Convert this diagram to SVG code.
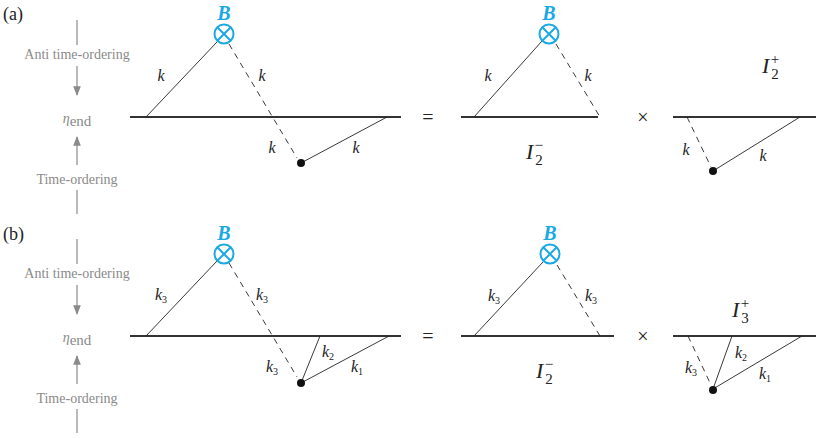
<svg xmlns="http://www.w3.org/2000/svg" width="817" height="438" viewBox="0 0 817 438">
<style>
text{font-family:"Liberation Serif","DejaVu Serif","Times New Roman",serif}
.g{font-size:14px;fill:#8a8a8a;text-anchor:middle}
.gl{stroke:#8a8a8a;stroke-width:1.2}
.base{stroke:#333;stroke-width:2}
.s{stroke:#222;stroke-width:0.9;fill:none}
.d{stroke:#222;stroke-width:0.9;fill:none;stroke-dasharray:6,5}
.k{font-style:italic;font-size:16px;fill:#222;text-anchor:middle}
.sub{font-size:10px;font-style:normal}
.B{font-style:italic;font-weight:bold;font-size:20px;fill:#1ba9e6;text-anchor:middle}
.c{stroke:#1ba9e6;stroke-width:2;fill:#fff}
.t{font-size:20px;fill:#222;text-anchor:middle}
.I{font-style:italic;font-size:22px;fill:#222}
.ss{font-size:15px;font-style:normal}
</style>
<defs>
<marker id="ah" viewBox="0 0 10 10" refX="9" refY="5" markerWidth="8" markerHeight="8" orient="auto"><path d="M0,1 L10,5 L0,9z" fill="#8a8a8a"/></marker>
<g id="bx"><circle cx="0" cy="0" r="9.5" class="c"/><path d="M-6.7,-6.7L6.7,6.7M-6.7,6.7L6.7,-6.7" stroke="#1ba9e6" stroke-width="2"/></g>
</defs>
<text x="3" y="20" font-size="18" fill="#222">(a)</text>
<text x="3" y="240" font-size="18" fill="#222">(b)</text>
<g id="axis-a">
<line x1="77" y1="20" x2="77" y2="45" class="gl"/>
<text x="77" y="59" class="g">Anti time-ordering</text>
<line x1="77" y1="66" x2="77" y2="95" class="gl" marker-end="url(#ah)"/>
<text x="77" y="123" class="g" font-size="21" font-style="italic">η<tspan font-style="normal" font-size="15" dy="3">end</tspan></text>
<line x1="77" y1="165" x2="77" y2="137" class="gl" marker-end="url(#ah)"/>
<text x="77" y="184" class="g">Time-ordering</text>
<line x1="77" y1="190" x2="77" y2="214" class="gl"/>
</g>
<g id="axis-b">
<line x1="77" y1="239" x2="77" y2="264" class="gl"/>
<text x="77" y="278" class="g">Anti time-ordering</text>
<line x1="77" y1="285" x2="77" y2="314" class="gl" marker-end="url(#ah)"/>
<text x="77" y="342" class="g" font-size="21" font-style="italic">η<tspan font-style="normal" font-size="15" dy="3">end</tspan></text>
<line x1="77" y1="384" x2="77" y2="356" class="gl" marker-end="url(#ah)"/>
<text x="77" y="403" class="g">Time-ordering</text>
<line x1="77" y1="409" x2="77" y2="433" class="gl"/>
</g>
<g id="connectors">
<line x1="130" y1="117" x2="401" y2="117" class="base"/>
<line x1="146" y1="117" x2="217" y2="42" class="s"/>
<line x1="229" y1="44" x2="297" y2="158" class="d"/>
<line x1="301" y1="163" x2="387" y2="117" class="s"/>
<line x1="461" y1="117" x2="598" y2="117" class="base"/>
<line x1="474" y1="117" x2="542" y2="41" class="s"/>
<line x1="556" y1="44" x2="600" y2="117" class="d"/>
<line x1="673" y1="117" x2="816" y2="117" class="base"/>
<line x1="687" y1="117" x2="711" y2="167" class="d"/>
<line x1="713" y1="171" x2="800" y2="117" class="s"/>

<line x1="130" y1="336" x2="401" y2="336" class="base"/>
<line x1="146" y1="336" x2="217" y2="261" class="s"/>
<line x1="229" y1="263" x2="297" y2="377" class="d"/>
<line x1="301" y1="383" x2="320" y2="336" class="s"/>
<line x1="301" y1="383" x2="389" y2="336" class="s"/>
<line x1="461" y1="336" x2="614" y2="336" class="base"/>
<line x1="474" y1="336" x2="543" y2="262" class="s"/>
<line x1="557" y1="265" x2="600" y2="336" class="d"/>
<line x1="673" y1="336" x2="816" y2="336" class="base"/>
<line x1="688" y1="336" x2="711" y2="385" class="d"/>
<line x1="713" y1="389" x2="732" y2="336" class="s"/>
<line x1="713" y1="389" x2="802" y2="336" class="s"/>
</g>
<g id="nodes-a">
<g id="Ba"><use href="#bx" x="224" y="34"/><text x="224" y="20" class="B">B</text></g>
<circle id="dot-a" cx="301" cy="163" r="4" fill="#111"/>
<g id="Ba2"><use href="#bx" x="549" y="34"/><text x="549" y="20" class="B">B</text></g>
<circle id="dot-a2" cx="713" cy="171" r="4" fill="#111"/>
<text x="161" y="81" class="k">k</text><text x="262" y="81" class="k">k</text>
<text x="272" y="153" class="k">k</text><text x="356" y="153" class="k">k</text>
<text x="488" y="81" class="k">k</text><text x="588" y="81" class="k">k</text>
<text x="686" y="155" class="k">k</text><text x="763" y="161" class="k">k</text>
<text x="428" y="124" class="t">=</text><text x="643" y="124" class="t">×</text>
<text x="526" y="159" class="I">I<tspan class="ss" dy="6" dx="2">2</tspan><tspan class="ss" dy="-15" dx="-8">−</tspan></text>
<text x="762" y="73" class="I">I<tspan class="ss" dy="6" dx="2">2</tspan><tspan class="ss" dy="-15" dx="-8">+</tspan></text>
</g>
<g id="nodes-b">
<g id="Bb"><use href="#bx" x="224" y="254"/><text x="224" y="240" class="B">B</text></g>
<circle id="dot-b" cx="301" cy="383" r="4" fill="#111"/>
<g id="Bb2"><use href="#bx" x="550" y="254"/><text x="550" y="240" class="B">B</text></g>
<circle id="dot-b2" cx="713" cy="390" r="4" fill="#111"/>
<text x="161" y="300" class="k">k<tspan class="sub" dy="3">3</tspan></text>
<text x="262" y="300" class="k">k<tspan class="sub" dy="3">3</tspan></text>
<text x="272" y="372" class="k">k<tspan class="sub" dy="3">3</tspan></text>
<text x="328" y="357" class="k">k<tspan class="sub" dy="3">2</tspan></text>
<text x="357" y="372" class="k">k<tspan class="sub" dy="3">1</tspan></text>
<text x="494" y="301" class="k">k<tspan class="sub" dy="3">3</tspan></text>
<text x="591" y="301" class="k">k<tspan class="sub" dy="3">3</tspan></text>
<text x="691" y="373" class="k">k<tspan class="sub" dy="3">3</tspan></text>
<text x="741" y="358" class="k">k<tspan class="sub" dy="3">2</tspan></text>
<text x="765" y="379" class="k">k<tspan class="sub" dy="3">1</tspan></text>
<text x="428" y="343" class="t">=</text><text x="643" y="343" class="t">×</text>
<text x="536" y="378" class="I">I<tspan class="ss" dy="6" dx="2">2</tspan><tspan class="ss" dy="-15" dx="-8">−</tspan></text>
<text x="732" y="317" class="I">I<tspan class="ss" dy="6" dx="2">3</tspan><tspan class="ss" dy="-15" dx="-8">+</tspan></text>
</g>
</svg>
